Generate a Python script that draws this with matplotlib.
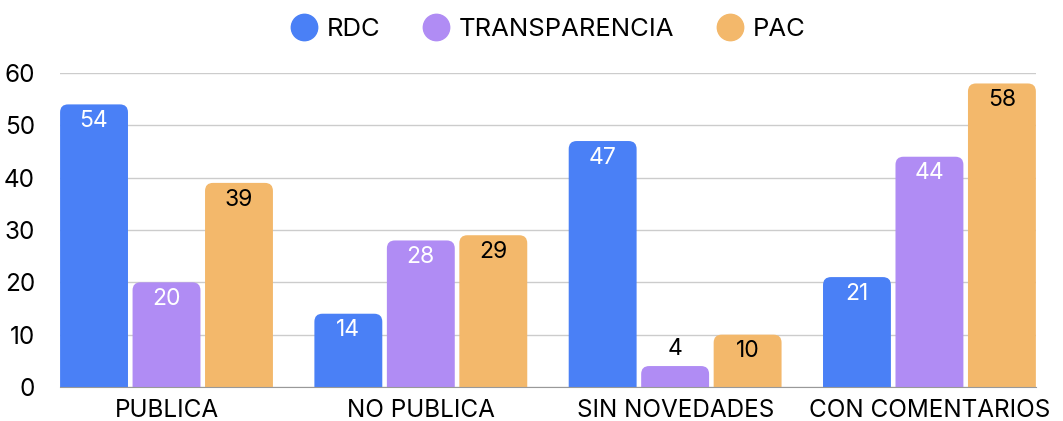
import numpy as np
import matplotlib
matplotlib.use("Agg")
import matplotlib.pyplot as plt
from matplotlib.patches import FancyBboxPatch
from matplotlib.lines import Line2D

plt.rcParams['font.family'] = ['Inter', 'DejaVu Sans']

categories = ["PUBLICA", "NO PUBLICA", "SIN NOVEDADES", "CON COMENTARIOS"]
series = ["RDC", "TRANSPARENCIA", "PAC"]
rdc = [54, 14, 47, 21]
transparencia = [20, 28, 4, 44]
pac = [39, 29, 10, 58]
colors = ["#4a80f6", "#b08cf4", "#f3b86b"]
label_colors = ["white", "white", "black"]

fig = plt.figure(figsize=(10.63, 4.21), dpi=100)
ax = fig.add_axes([0.0564, 0.0808, 0.9182, 0.7458])

x = np.arange(len(categories))
step = 0.285
width = 0.267
values = [rdc, transparencia, pac]

# rounding radius in pixels -> data units
rx = 8 / 254.3
ry = 8 / 5.233

for i, vals in enumerate(values):
    bars = ax.bar(x + (i - 1) * step, vals, width, color=colors[i])
    for b, v in zip(bars, vals):
        b.set_visible(False)
        patch = FancyBboxPatch((b.get_x(), -3), b.get_width(), v + 3,
                               boxstyle="round,pad=0,rounding_size=%f" % rx,
                               mutation_aspect=ry / rx,
                               fc=colors[i], ec="none", zorder=3)
        ax.add_patch(patch)
        if v >= 8:
            ax.text(b.get_x() + b.get_width() / 2, v - 1.1, str(v), ha="center", va="top",
                    fontsize=16.5, color=label_colors[i], zorder=4)
        else:
            ax.text(b.get_x() + b.get_width() / 2, v + 1.1, str(v), ha="center", va="bottom",
                    fontsize=16.5, color="black", zorder=4)

ax.set_xlim(-0.419, 3.419)
ax.set_ylim(0, 60)
ax.set_yticks([0, 10, 20, 30, 40, 50, 60])
ax.set_xticks(x)
ax.set_xticklabels(categories)
ax.tick_params(axis="both", length=0, labelsize=17.5, colors="black")
ax.tick_params(axis="y", pad=18)
ax.tick_params(axis="x", pad=9)
ax.grid(axis="y", color="#cccccc", linewidth=1, zorder=0)
ax.set_axisbelow(True)
for s in ["top", "right", "left"]:
    ax.spines[s].set_visible(False)
ax.spines["bottom"].set_color("#999999")
ax.spines["bottom"].set_zorder(5)

handles = [Line2D([], [], marker="o", linestyle="none", markersize=19,
                  markerfacecolor=c, markeredgecolor=c) for c in colors]
fig.legend(handles, series, loc="upper center", bbox_to_anchor=(0.515, 1.013), ncol=3,
           frameon=False, fontsize=18.5, handlelength=1.1, handletextpad=0.35,
           columnspacing=1.6)

fig.savefig("out.png", dpi=100)
